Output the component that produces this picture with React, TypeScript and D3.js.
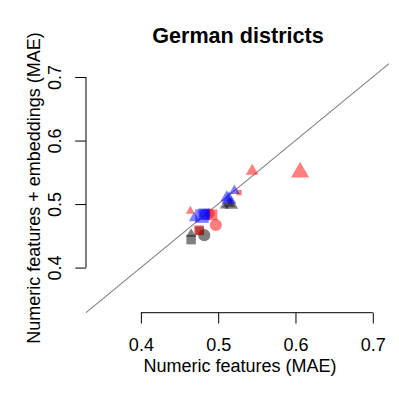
import React, { useRef, useEffect } from 'react';
import * as d3 from 'd3';

const title = 'German districts';
const xLabel = 'Numeric features (MAE)';
const yLabel = 'Numeric features + embeddings (MAE)';
const xTicks = [0.4, 0.5, 0.6, 0.7];
const yTicks = [0.4, 0.5, 0.6, 0.7];

// one entry per point (drawn in this order: black, red, blue)
const maeNumeric = [0.517, 0.508, 0.514, 0.482, 0.465, 0.476, 0.465, 0.606, 0.544, 0.527, 0.464, 0.492, 0.489, 0.497, 0.475, 0.521, 0.514, 0.511, 0.479, 0.482, 0.469, 0.483];
const maeEmbed = [0.499, 0.497, 0.501, 0.451, 0.444, 0.458, 0.453, 0.550, 0.552, 0.518, 0.489, 0.483, 0.485, 0.467, 0.459, 0.521, 0.507, 0.510, 0.481, 0.484, 0.478, 0.484];
const groups = ['black', 'black', 'black', 'black', 'black', 'black', 'black', 'red', 'red', 'red', 'red', 'red', 'red', 'red', 'red', 'blue', 'blue', 'blue', 'blue', 'blue', 'blue', 'blue'];
const shapes = ['tri', 'tri', 'tri', 'circle', 'square', 'square', 'tri', 'tri', 'tri', 'square', 'tri', 'square', 'circle', 'circle', 'square', 'tri', 'tri', 'tri', 'square', 'square', 'tri', 'circle'];
const sizes = [0.75, 0.5, 0.65, 0.9, 0.7, 0.65, 0.55, 1.0, 0.7, 0.4, 0.5, 0.8, 0.75, 0.9, 0.7, 0.6, 0.8, 0.7, 1.0, 0.85, 0.6, 0.8];

const W = 399;
const H = 399;
const font = '"Liberation Sans", Arial, Helvetica, sans-serif';

function App() {
  const svgRef = useRef<SVGSVGElement | null>(null);

  useEffect(() => {
    const svg = d3.select(svgRef.current);
    svg.selectAll('*').remove();

    const x = d3.scaleLinear().domain([0.329, 0.721]).range([86, 389]);
    const y = d3.scaleLinear().domain([0.329, 0.7205]).range([312.7, 64]);

    const fills: Record<string, string> = {
      black: 'rgba(0,0,0,0.5)',
      red: 'rgba(255,0,0,0.5)',
      blue: 'rgba(0,0,255,0.5)',
    };
    // R pch 15/16/17 areas at cex 1 (18px base)
    const symType: Record<string, d3.SymbolType> = {
      tri: d3.symbolTriangle,
      circle: d3.symbolCircle,
      square: d3.symbolSquare,
    };
    const baseArea: Record<string, number> = { tri: 143.1, circle: 143.1, square: 182.25 };

    // title
    svg.append('text')
      .attr('x', 238).attr('y', 43)
      .attr('text-anchor', 'middle')
      .style('font-family', font).style('font-size', '21.6px').style('font-weight', 'bold')
      .text(title);

    // diagonal y = x
    const [d0, d1] = x.domain();
    svg.append('line')
      .attr('x1', x(d0)).attr('y1', y(d0))
      .attr('x2', x(d1)).attr('y2', y(d1))
      .attr('stroke', '#7f7f7f').attr('stroke-width', 1.1);

    // points
    const idx = d3.range(maeNumeric.length);
    svg.append('g').selectAll('path')
      .data(idx)
      .enter()
      .append('path')
      .attr('transform', i => `translate(${x(maeNumeric[i])},${y(maeEmbed[i])})`)
      .attr('d', i => d3.symbol().type(symType[shapes[i]]).size(baseArea[shapes[i]] * sizes[i] * sizes[i])()!)
      .attr('fill', i => fills[groups[i]]);

    // x axis
    const gx = svg.append('g')
      .attr('transform', 'translate(0,312.7)')
      .call(d3.axisBottom(x).tickValues(xTicks).tickSize(10.8).tickPadding(15.2).tickFormat(d3.format('.1f')));
    gx.select('.domain').remove();
    gx.append('line')
      .attr('x1', x(xTicks[0])).attr('x2', x(xTicks[xTicks.length - 1]))
      .attr('stroke', '#000');
    gx.selectAll('.tick line').attr('stroke', '#000');
    gx.selectAll('text')
      .style('font-family', font).style('font-size', '18px').attr('fill', '#000');

    // y axis
    const gy = svg.append('g')
      .attr('transform', 'translate(86,0)')
      .call(d3.axisLeft(y).tickValues(yTicks).tickSize(10.8).tickFormat(d3.format('.1f')));
    gy.select('.domain').remove();
    gy.append('line')
      .attr('y1', y(yTicks[0])).attr('y2', y(yTicks[yTicks.length - 1]))
      .attr('stroke', '#000');
    gy.selectAll('.tick line').attr('stroke', '#000');
    gy.selectAll('text')
      .attr('transform', 'rotate(-90)')
      .attr('x', 0).attr('y', -25.5).attr('dy', null)
      .attr('text-anchor', 'middle')
      .style('font-family', font).style('font-size', '18px').attr('fill', '#000');

    // axis titles
    svg.append('text')
      .attr('x', 240).attr('y', 371.5)
      .attr('text-anchor', 'middle')
      .style('font-family', font).style('font-size', '18px')
      .text(xLabel);

    svg.append('text')
      .attr('transform', 'translate(40,188) rotate(-90)')
      .attr('text-anchor', 'middle')
      .style('font-family', font).style('font-size', '18px')
      .text(yLabel);
  }, []);

  return (
    <div style={{ position: 'absolute', left: 0, top: 0, width: W, height: H, background: '#fff' }}>
      <svg ref={svgRef} width={W} height={H}></svg>
    </div>
  );
}

export default App;
